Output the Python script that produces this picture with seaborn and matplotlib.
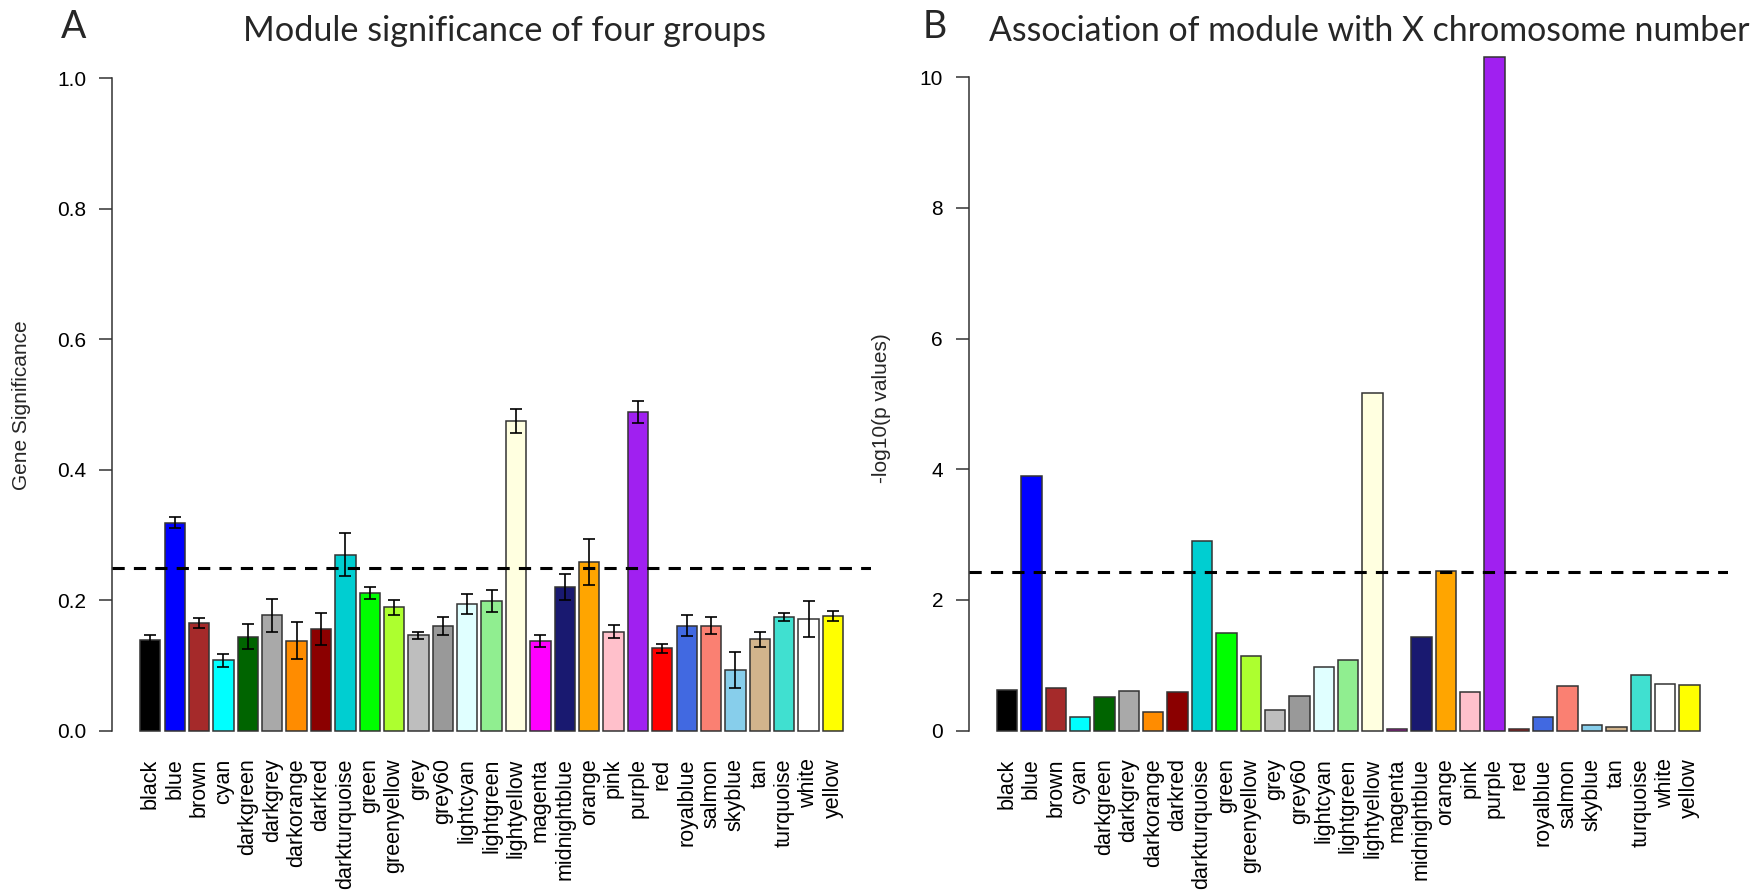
import matplotlib
matplotlib.use("Agg")
import matplotlib.pyplot as plt
import seaborn as sns
import numpy as np

modules = ["black", "blue", "brown", "cyan", "darkgreen", "darkgrey", "darkorange",
           "darkred", "darkturquoise", "green", "greenyellow", "grey", "grey60",
           "lightcyan", "lightgreen", "lightyellow", "magenta", "midnightblue",
           "orange", "pink", "purple", "red", "royalblue", "salmon", "skyblue",
           "tan", "turquoise", "white", "yellow"]

# R colour definitions of the module names
module_hex = ["#000000", "#0000FF", "#A52A2A", "#00FFFF", "#006400", "#A9A9A9", "#FF8C00",
              "#8B0000", "#00CED1", "#00FF00", "#ADFF2F", "#BEBEBE", "#999999",
              "#E0FFFF", "#90EE90", "#FFFFE0", "#FF00FF", "#191970",
              "#FFA500", "#FFC0CB", "#A020F0", "#FF0000", "#4169E1", "#FA8072", "#87CEEB",
              "#D2B48C", "#40E0D0", "#FFFFFF", "#FFFF00"]

gs_mean = [0.139, 0.319, 0.165, 0.108, 0.144, 0.177, 0.138, 0.156, 0.270, 0.211,
           0.189, 0.146, 0.161, 0.194, 0.199, 0.475, 0.138, 0.220, 0.259, 0.152,
           0.488, 0.126, 0.161, 0.161, 0.093, 0.140, 0.174, 0.171, 0.176]
gs_err = [0.008, 0.008, 0.007, 0.010, 0.019, 0.025, 0.028, 0.024, 0.033, 0.009,
          0.011, 0.005, 0.014, 0.015, 0.017, 0.018, 0.009, 0.020, 0.035, 0.010,
          0.017, 0.007, 0.016, 0.013, 0.028, 0.011, 0.006, 0.028, 0.008]
gs_threshold = 0.25

neglogp = [0.63, 3.89, 0.66, 0.21, 0.52, 0.60, 0.28, 0.59, 2.91, 1.49,
           1.14, 0.31, 0.53, 0.98, 1.08, 5.17, 0.03, 1.43, 2.44, 0.59,
           10.31, 0.02, 0.21, 0.68, 0.08, 0.06, 0.85, 0.72, 0.70]
p_threshold = 2.43

left_ticks = [0.0, 0.2, 0.4, 0.6, 0.8, 1.0]
right_ticks = [0, 2, 4, 6, 8, 10]

sns.set_theme(style="white")
plt.rcParams["font.family"] = ["Liberation Sans", "DejaVu Sans"]

W, H = 1765, 892
fig = plt.figure(figsize=(W / 100, H / 100), dpi=100)

def px_ax(x0, x1, ytop, ybot):
    return fig.add_axes([x0 / W, 1 - ybot / H, (x1 - x0) / W, (ybot - ytop) / H])

ax1 = px_ax(112, 871, 30, 757)
ax2 = px_ax(968.7, 1727.5, 30, 757)

palette = dict(zip(modules, module_hex))

def draw(ax, vals, ylim, ticks, thr, err=None):
    sns.barplot(x=modules, y=vals, hue=modules, palette=palette, legend=False,
                width=0.833, edgecolor="#333333", linewidth=1.1, saturation=1,
                ax=ax, zorder=2)
    if err is not None:
        ax.errorbar(np.arange(len(modules)), vals, yerr=err, fmt="none",
                    ecolor="black", elinewidth=1.2, capsize=4.3, capthick=1.2,
                    zorder=3)
    ax.axhline(thr, color="black", lw=2.2, dashes=(4, 3), zorder=4)
    ax.set_xlim(-1.571, 29.56)
    ax.set_ylim(*ylim)
    ax.set_yticks(ticks)
    if ticks[-1] >= 10:
        ax.set_yticklabels([f"{t:d}" for t in ticks])
    else:
        ax.set_yticklabels([f"{t:.1f}" for t in ticks])
    for s in ["top", "right", "bottom"]:
        ax.spines[s].set_visible(False)
    ax.spines["left"].set_bounds(ticks[0], ticks[-1])
    ax.spines["left"].set_color("#333333")
    ax.spines["left"].set_linewidth(1.1)
    ax.tick_params(axis="y", length=9.5, width=1.1, color="#333333", pad=9,
                   labelsize=15, left=True, labelcolor="black")
    ax.tick_params(axis="x", length=0, pad=1, labelsize=15.5, labelcolor="black")
    plt.setp(ax.get_xticklabels(), rotation=90, va="top", ha="center")
    ax.set_xlabel("")
    ax.set_ylabel("")
    ax.grid(False)
    ax.set_facecolor("white")

draw(ax1, gs_mean, (-0.0403, 1.0739), left_ticks, gs_threshold, err=gs_err)
draw(ax2, neglogp, (-0.4025, 10.722), right_ticks, p_threshold)

fig.text(22 / W, 1 - 405 / H, "Gene Significance", rotation=90, ha="center",
         va="center", fontsize=15)
fig.text(882 / W, 1 - 408 / H, "-log10(p values)", rotation=90, ha="center",
         va="center", fontsize=15)

tfont = ["Lato", "DejaVu Sans"]
fig.text(505 / W, 1 - 41 / H, "Module significance of four groups", ha="center",
         va="baseline", fontsize=24.7, family=tfont)
fig.text(1369 / W, 1 - 41 / H, "Association of module with X chromosome number",
         ha="center", va="baseline", fontsize=24.4, family=tfont)
fig.text(74 / W, 1 - 38 / H, "A", ha="center", va="baseline", fontsize=27, family=tfont)
fig.text(935 / W, 1 - 38 / H, "B", ha="center", va="baseline", fontsize=27, family=tfont)

fig.savefig("out.png", dpi=100, facecolor="white")
